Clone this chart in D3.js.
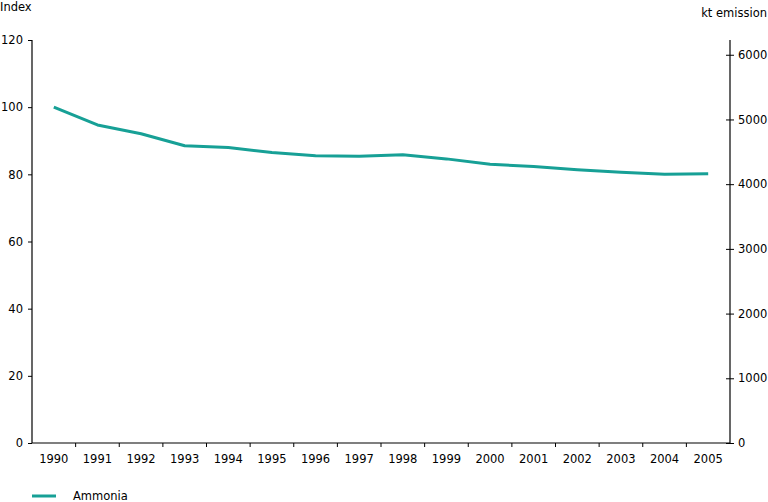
<!DOCTYPE html>
<html><head><meta charset="utf-8">
<script src="https://cdn.jsdelivr.net/npm/d3@7"></script>
<style>
body{margin:0;background:#fff;}
text{font-family:"DejaVu Sans",Verdana,sans-serif;font-size:11.5px;fill:#000;}
</style></head>
<body><svg id="c" width="768" height="502"></svg>
<script>
const years = ["1990","1991","1992","1993","1994","1995","1996","1997","1998","1999","2000","2001","2002","2003","2004","2005"];
const ammonia = [100,94.7,92.1,88.5,88.0,86.5,85.5,85.4,85.8,84.6,83.0,82.3,81.4,80.6,80.0,80.2];
const leftTicks = [0,20,40,60,80,100,120];
const rightTicks = [0,1000,2000,3000,4000,5000,6000];
const baseEmission = 5190; // kt in 1990 (index 100)

const svg = d3.select("#c");
const L = 32, R = 730, T = 40, B = 443;
const x = d3.scaleBand().domain(years).range([L, R]);
const yL = d3.scaleLinear().domain([0,120]).range([B, T]);
const yR = d3.scaleLinear().domain([0, baseEmission*1.2]).range([B, T]);
const color = "#17a096";
const fs = "11.5px";

const gl = svg.append("g").attr("transform",`translate(${L},0)`)
  .call(d3.axisLeft(yL).tickValues(leftTicks).tickSize(4).tickPadding(5).tickFormat(d3.format("d")));
const gr = svg.append("g").attr("transform",`translate(${R},0)`)
  .call(d3.axisRight(yR).tickValues(rightTicks).tickSize(4).tickPadding(4).tickFormat(d3.format("d")));
gr.selectAll(".tick line").attr("x1",-4);
const gx = svg.append("g").attr("transform",`translate(0,${B})`)
  .call(d3.axisBottom(x).tickSize(0).tickPadding(12));
gx.selectAll(".tick text").attr("dy","0.71em");
svg.append("g").selectAll("line").data(years.slice(1)).join("line")
  .attr("x1",d=>x(d)).attr("x2",d=>x(d)).attr("y1",B).attr("y2",B+4)
  .attr("stroke","#000");

[gl,gr,gx].forEach(g=>{
  g.select(".domain").attr("stroke","#000").attr("stroke-width",1.2);
  g.selectAll(".tick line").attr("stroke","#000");
  g.selectAll("text").style("font-family","'DejaVu Sans',Verdana,sans-serif").style("font-size",fs).attr("fill","#000");
});
gl.select(".domain").attr("d",`M0,${T}V${B}`);
gr.select(".domain").attr("d",`M0,${T}V${B}`);
gx.select(".domain").attr("d",`M${L},0H${R}`);

svg.append("text").attr("x",0).attr("y",11).text("Index");
svg.append("text").attr("x",767).attr("y",17).attr("text-anchor","end").text("kt emission");

const line = d3.line().x((d,i)=>x(years[i])+x.bandwidth()/2).y(d=>yL(d));
svg.append("path").datum(ammonia).attr("d",line)
  .attr("fill","none").attr("stroke",color).attr("stroke-width",3).attr("stroke-linejoin","round");

svg.append("line").attr("x1",32).attr("x2",56).attr("y1",496).attr("y2",496)
  .attr("stroke",color).attr("stroke-width",3);
svg.append("text").attr("x",73).attr("y",500).text("Ammonia");
</script></body></html>
